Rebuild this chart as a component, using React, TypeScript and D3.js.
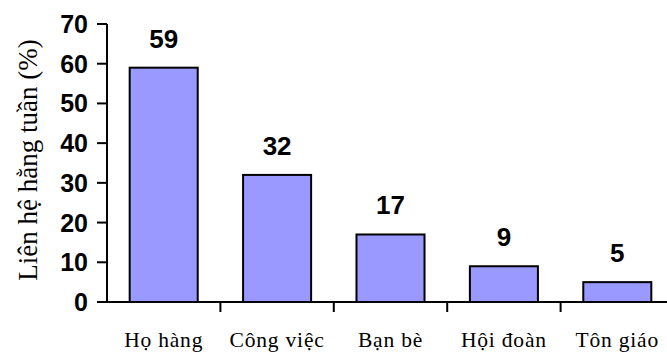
import React from "react";
import * as d3 from "d3";

const categories = ["Họ hàng", "Công việc", "Bạn bè", "Hội đoàn", "Tôn giáo"];
const values = [59, 32, 17, 9, 5];
const yTicks = [0, 10, 20, 30, 40, 50, 60, 70];
const yTitle = "Liên hệ hằng tuần (%)";

const W = 667;
const H = 356;
const left = 107;
const bandW = 113.4;
const top = 24;
const bottom = 302;

export default function App() {
  const x = d3
    .scaleBand<string>()
    .domain(categories)
    .range([left, left + bandW * categories.length])
    .paddingInner(0)
    .paddingOuter(0);
  const y = d3.scaleLinear().domain([0, 70]).range([bottom, top]);
  const barW = x.bandwidth() * 0.6;
  const sans = "'Liberation Sans', Arial, sans-serif";
  const serif = "'Liberation Serif', 'Times New Roman', serif";

  return (
    <svg
      width={W}
      height={H}
      style={{ position: "absolute", left: 0, top: 0, background: "#fff" }}
    >
      {/* bars */}
      {categories.map((c, i) => {
        const cx = (x(c) as number) + x.bandwidth() / 2;
        return (
          <g key={c}>
            <rect
              x={cx - barW / 2}
              y={y(values[i])}
              width={barW}
              height={y(0) - y(values[i])}
              fill="#9999FF"
              stroke="#000"
              strokeWidth={2}
            />
            <text
              x={cx}
              y={y(values[i]) - 20}
              textAnchor="middle"
              fontFamily={sans}
              fontWeight="bold"
              fontSize={26}
              fill="#000"
            >
              {values[i]}
            </text>
            <text
              x={cx}
              y={347}
              textAnchor="middle"
              fontFamily={serif}
              fontSize={21.5}
              letterSpacing={0.8}
              fill="#000"
            >
              {c}
            </text>
          </g>
        );
      })}

      {/* y axis */}
      <line x1={left} x2={left} y1={top} y2={bottom} stroke="#000" strokeWidth={2} />
      {yTicks.map((t) => (
        <g key={t}>
          <line x1={left - 10} x2={left} y1={y(t)} y2={y(t)} stroke="#000" strokeWidth={2} />
          <text
            x={88}
            y={y(t)}
            dy="0.36em"
            textAnchor="end"
            fontFamily={sans}
            fontWeight="bold"
            fontSize={25}
            fill="#000"
          >
            {t}
          </text>
        </g>
      ))}

      {/* x axis */}
      <line x1={left} x2={W} y1={bottom} y2={bottom} stroke="#000" strokeWidth={2} />
      {categories.map((c) => {
        const bx = (x(c) as number) + x.bandwidth();
        return (
          <line key={"t" + c} x1={bx} x2={bx} y1={bottom} y2={bottom + 10} stroke="#000" strokeWidth={2} />
        );
      })}

      {/* y title */}
      <text
        transform={`translate(37, 160) rotate(-90)`}
        textAnchor="middle"
        fontFamily={serif}
        fontSize={27}
        fill="#000"
      >
        {yTitle}
      </text>
    </svg>
  );
}
